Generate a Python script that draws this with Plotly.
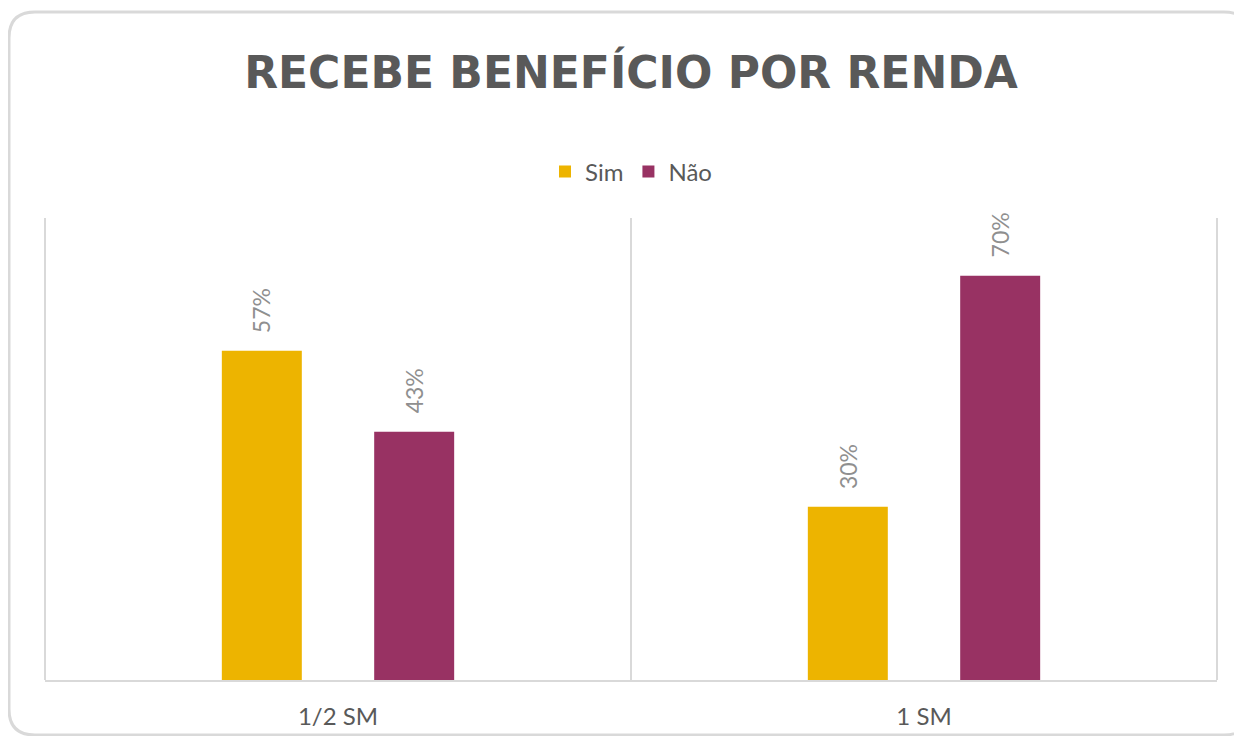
import plotly.graph_objects as go

categories = ["1/2 SM", "1 SM"]
series_names = ["Sim", "Não"]
sim_values = [0.57, 0.30]
nao_values = [0.43, 0.70]
series_colors = ["#EDB400", "#983263"]

# page body has an 8px margin; work in screen px and convert
OFF = 8
W, H = 1234, 728
ml, mt = 45 - OFF, 218 - OFF
mr = W - (1217 - OFF)
mb = H - (680 - OFF)
pw, ph = W - ml - mr, H - mt - mb

bargap, bargroupgap = 0.48, 0.475

fig = go.Figure()
for name, vals, col in zip(series_names, [sim_values, nao_values], series_colors):
    fig.add_trace(go.Bar(
        x=categories, y=vals, name=name, marker=dict(color=col, line=dict(width=0)),
    ))

slot = (1 - bargap) / len(series_names)
for k, vals in enumerate([sim_values, nao_values]):
    for i, v in enumerate(vals):
        fig.add_annotation(
            x=i - (1 - bargap) / 2 + slot * (k + 0.5), y=v, xref="x", yref="y",
            text=f"{v:.0%}", textangle=-90, showarrow=False,
            xanchor="center", yanchor="bottom", yshift=16,
            font=dict(family="Lato", size=23, color="#8f8f8f"),
        )

def px2x(p):
    return (p - OFF - ml) / pw

def py2y(p):
    return (H - mb - (p - OFF)) / ph

# rounded outer border
x0, x1, y0, y1, r = 9, 1250, 12, 735, 26
path = (
    f"M {px2x(x0)},{py2y(y0 + r)} "
    f"Q {px2x(x0)},{py2y(y0)} {px2x(x0 + r)},{py2y(y0)} "
    f"L {px2x(x1 - r)},{py2y(y0)} "
    f"Q {px2x(x1)},{py2y(y0)} {px2x(x1)},{py2y(y0 + r)} "
    f"L {px2x(x1)},{py2y(y1 - r)} "
    f"Q {px2x(x1)},{py2y(y1)} {px2x(x1 - r)},{py2y(y1)} "
    f"L {px2x(x0 + r)},{py2y(y1)} "
    f"Q {px2x(x0)},{py2y(y1)} {px2x(x0)},{py2y(y1 - r)} Z"
)
fig.add_shape(type="path", path=path, xref="paper", yref="paper",
              line=dict(color="#d9d9d9", width=3), layer="below")
# left and right separators
for xp in (0, 1):
    fig.add_shape(type="line", x0=xp, x1=xp, y0=0, y1=1, xref="paper", yref="paper",
                  line=dict(color="#d9d9d9", width=2), layer="below")

fig.update_layout(
    width=W, height=H,
    margin=dict(l=ml, r=mr, t=mt, b=mb),
    paper_bgcolor="white", plot_bgcolor="white",
    barmode="group", bargap=bargap, bargroupgap=bargroupgap,
    title=dict(text="<b>RECEBE BENEFÍCIO POR RENDA</b>", x=0.5, xref="paper", xanchor="center",
               y=1 - (73 - OFF) / H, yanchor="middle",
               font=dict(family="DejaVu Sans", size=44, color="#595959")),
    legend=dict(orientation="h", x=0.5, xanchor="center", y=py2y(172), yanchor="middle",
                font=dict(family="Lato", size=24, color="#595959"), itemwidth=30,
                traceorder="normal"),
    showlegend=True,
    xaxis=dict(tickson="boundaries", showgrid=True, gridcolor="#d9d9d9", gridwidth=2,
               showline=True, linecolor="#d9d9d9", linewidth=2, ticks="",
               ticklabelstandoff=14, automargin=False,
               range=[-0.5, 1.5], tickfont=dict(family="Lato", size=24, color="#595959"),
               zeroline=False),
    yaxis=dict(range=[0, 0.8], visible=False, showgrid=False, zeroline=False, automargin=False),
    font=dict(family="Lato"),
)

fig.write_html("out.html")
